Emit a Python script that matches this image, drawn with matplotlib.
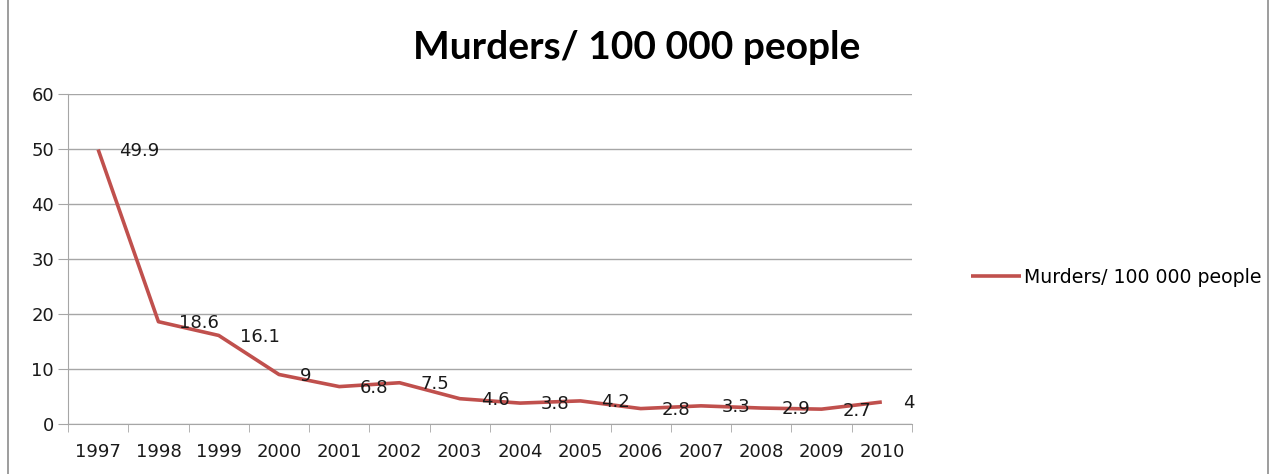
import matplotlib as mpl
import matplotlib.pyplot as plt
from matplotlib.patches import Rectangle

mpl.use('Agg')

years = ['1997', '1998', '1999', '2000', '2001', '2002', '2003',
         '2004', '2005', '2006', '2007', '2008', '2009', '2010']
murders = [49.9, 18.6, 16.1, 9, 6.8, 7.5, 4.6, 3.8, 4.2, 2.8, 3.3, 2.9, 2.7, 4]
labels = ['49.9', '18.6', '16.1', '9', '6.8', '7.5', '4.6',
          '3.8', '4.2', '2.8', '3.3', '2.9', '2.7', '4']
yticks = [0, 10, 20, 30, 40, 50, 60]

red = '#C0504D'
grid = '#A6A6A6'
fs = 13

fig = plt.figure(figsize=(12.76, 4.74), dpi=100)
fig.patches.append(Rectangle((0.006, -0.01), 0.988, 1.02, transform=fig.transFigure,
                             fill=False, edgecolor='#8C8C8C', linewidth=1.2))
ax = fig.add_axes([0.0533, 0.1055, 0.6614, 0.6962])

x = list(range(len(years)))
line, = ax.plot(x, murders, color=red, linewidth=2.6, label='Murders/ 100 000 people',
                solid_capstyle='butt')
for xi, v, t in zip(x, murders, labels):
    ax.annotate(t, (xi, v), xytext=(15, -1), textcoords='offset points',
                ha='left', va='center', fontsize=fs, color='#1a1a1a')

ax.set_xlim(-0.5, len(years) - 0.5)
ax.set_ylim(0, 60)
ax.set_yticks(yticks)
ax.set_yticklabels([str(v) for v in yticks])
ax.set_xticks(x)
ax.set_xticklabels(years)
ax.set_xticks([i - 0.5 for i in range(len(years) + 1)], minor=True)
ax.tick_params(axis='x', which='major', length=0, pad=14, labelsize=fs, colors='#1a1a1a')
ax.tick_params(axis='x', which='minor', length=6, color=grid, direction='out')
ax.tick_params(axis='y', length=7, color=grid, labelsize=fs, pad=3, colors='#1a1a1a')
ax.yaxis.grid(True, color=grid, linewidth=1)
ax.set_axisbelow(True)
for s in ['top', 'right']:
    ax.spines[s].set_visible(False)
for s in ['left', 'bottom']:
    ax.spines[s].set_color(grid)

fig.text(0.499, 0.9, 'Murders/ 100 000 people', ha='center', va='center',
         fontsize=28, fontweight='bold', family='Lato')
fig.legend(handles=[line], loc='center left', bbox_to_anchor=(0.748, 0.415),
           frameon=False, fontsize=13.6, handlelength=2.6, handletextpad=0.2)

plt.savefig('out.png', dpi=100)
